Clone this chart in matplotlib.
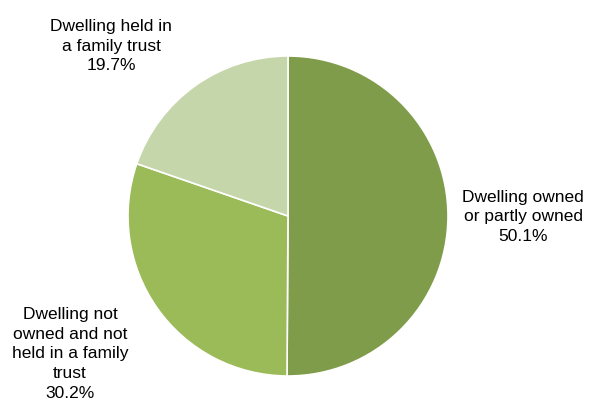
import matplotlib
matplotlib.use('Agg')
import matplotlib.pyplot as plt

labels = ['Dwelling owned\nor partly owned', 'Dwelling not\nowned and not\nheld in a family\ntrust', 'Dwelling held in\na family trust']
values = [50.1, 30.2, 19.7]
colors = ['#7f9c4b', '#9bbb59', '#c6d6ab']

plt.rcParams['font.family'] = ['Liberation Sans', 'DejaVu Sans']

fig = plt.figure(figsize=(6.03, 4.06), dpi=100)
ax = fig.add_axes([0, 0, 1, 1])

ax.pie(values, colors=colors, startangle=90, counterclock=False,
       center=(288, 189), radius=160, frame=True,
       wedgeprops=dict(edgecolor='white', linewidth=1.2))
ax.set_xlim(0, 603)
ax.set_ylim(0, 406)
ax.set_aspect('equal')
ax.axis('off')

# label positions
pos = [(523, 189), (70, 52), (111, 360)]
for (x, y), lab, v in zip(pos, labels, values):
    ax.text(x, y, f'{lab}\n{v:.1f}%', ha='center', va='center',
            fontsize=12.5, linespacing=1.38, color='black')

fig.savefig('out.png', dpi=100)
